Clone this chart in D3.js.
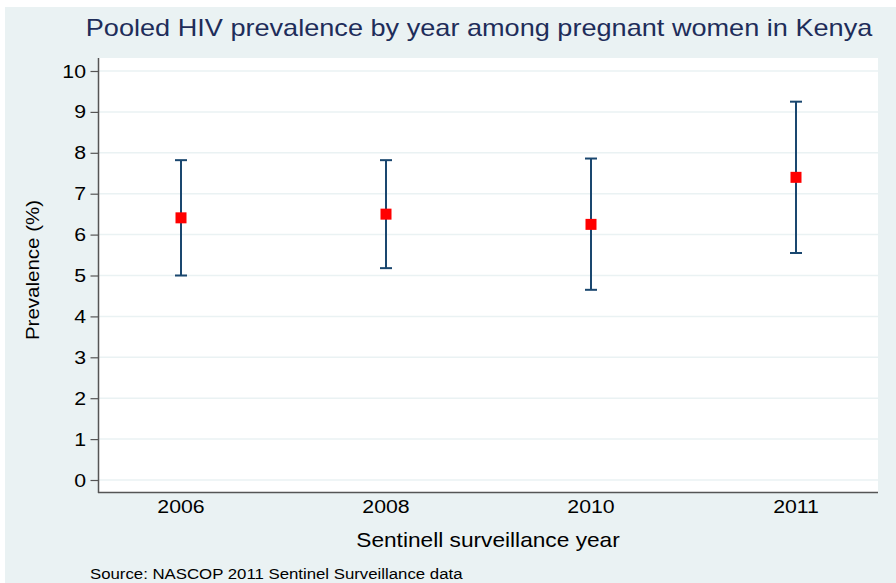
<!DOCTYPE html>
<html>
<head>
<meta charset="utf-8">
<script src="https://cdn.jsdelivr.net/npm/d3@7"></script>
<style>
  html, body { margin: 0; padding: 0; background: #ffffff; }
  svg { display: block; }
  text { font-family: "Liberation Sans", Arial, Helvetica, sans-serif; }
</style>
</head>
<body>
<svg id="chart" width="896" height="583"></svg>
<script>
// Survey years and pooled prevalence with confidence interval bounds (%)
const years = ["2006", "2008", "2010", "2011"];
const prevalence = [6.41, 6.50, 6.25, 7.40];
const lowerCI = [5.00, 5.18, 4.65, 5.55];
const upperCI = [7.82, 7.82, 7.86, 9.25];
const yTicks = [0, 1, 2, 3, 4, 5, 6, 7, 8, 9, 10];

const titleText = "Pooled HIV prevalence by year among pregnant women in Kenya";
const xTitle = "Sentinell surveillance year";
const yTitle = "Prevalence (%)";
const sourceText = "Source: NASCOP 2011 Sentinel Surveillance data";

const W = 896, H = 583;
const plot = { left: 99, right: 878, top: 58, bottom: 493 };
const stretch = 1.12; // horizontal widening of the lettering

const svg = d3.select("#chart");

// outer background panel
svg.append("rect").attr("x", 5).attr("y", 7).attr("width", W - 5).attr("height", H - 7)
  .attr("fill", "#eaf2f3");

// plot region
svg.append("rect").attr("x", plot.left).attr("y", plot.top)
  .attr("width", plot.right - plot.left).attr("height", plot.bottom - plot.top)
  .attr("fill", "#ffffff");

const x = d3.scalePoint().domain(years).range([plot.left, plot.right]).padding(0.4);
const y = d3.scaleLinear().domain([0, 10]).range([480, 71]);

// stretched text helper (stretch runs along the reading direction)
function label(g, tx, ty, str, opts) {
  const s = opts.sx || stretch;
  const tf = opts.rotate
    ? `translate(${tx},${ty}) scale(1,${s}) rotate(${opts.rotate})`
    : `translate(${tx},${ty}) scale(${s},1)`;
  return g.append("text")
    .attr("transform", tf)
    .attr("font-size", opts.size)
    .attr("fill", opts.fill || "#000")
    .attr("text-anchor", opts.anchor || "middle")
    .text(str);
}

// gridlines
svg.append("g").selectAll("line").data(yTicks).join("line")
  .attr("x1", plot.left).attr("x2", plot.right)
  .attr("y1", d => y(d)).attr("y2", d => y(d))
  .attr("stroke", "#eaf2f3").attr("stroke-width", 1.5);

// y axis
const yAxis = svg.append("g").attr("transform", `translate(${plot.left - 0.5},0)`)
  .call(d3.axisLeft(y).tickValues(yTicks).tickSize(8).tickFormat(""));
yAxis.select(".domain").attr("d", `M0,${plot.top}V${plot.bottom}`).attr("stroke", "#555").attr("stroke-width", 1.5);
yAxis.selectAll(".tick line").attr("stroke", "#555").attr("stroke-width", 1.2);
const yLab = svg.append("g");
yTicks.forEach(v => label(yLab, 86, y(v) + 6.5, String(v), { size: 19, anchor: "end" }));

// x axis
const xAxis = svg.append("g").attr("transform", `translate(0,${plot.bottom - 0.5})`)
  .call(d3.axisBottom(x).tickSize(0).tickFormat(""));
xAxis.select(".domain").attr("d", `M${plot.left - 1},0H${plot.right}`).attr("stroke", "#555").attr("stroke-width", 1.5);
const xLab = svg.append("g");
years.forEach(yr => label(xLab, x(yr), 513, yr, { size: 19 }));

// error bars
const bars = svg.append("g").attr("stroke", "#1a476f").attr("stroke-width", 2).attr("fill", "none");
years.forEach((yr, i) => {
  const cx = x(yr);
  bars.append("line").attr("x1", cx).attr("x2", cx).attr("y1", y(upperCI[i])).attr("y2", y(lowerCI[i]));
  bars.append("line").attr("x1", cx - 6).attr("x2", cx + 6).attr("y1", y(upperCI[i])).attr("y2", y(upperCI[i]));
  bars.append("line").attr("x1", cx - 6).attr("x2", cx + 6).attr("y1", y(lowerCI[i])).attr("y2", y(lowerCI[i]));
});

// point estimates
svg.append("g").selectAll("rect").data(years).join("rect")
  .attr("x", d => x(d) - 5.5).attr("y", (d, i) => y(prevalence[i]) - 5.5)
  .attr("width", 11).attr("height", 11).attr("fill", "#ff0000");

// titles
const titles = svg.append("g");
label(titles, 479, 36, titleText, { size: 24, fill: "#1e2d5a", sx: 1.13 });
label(titles, 488, 547, xTitle, { size: 20, sx: 1.135 });
label(titles, 39, 270, yTitle, { size: 19, rotate: -90, sx: 1.08 });
label(titles, 90, 579, sourceText, { size: 15, anchor: "start" });
</script>
</body>
</html>
